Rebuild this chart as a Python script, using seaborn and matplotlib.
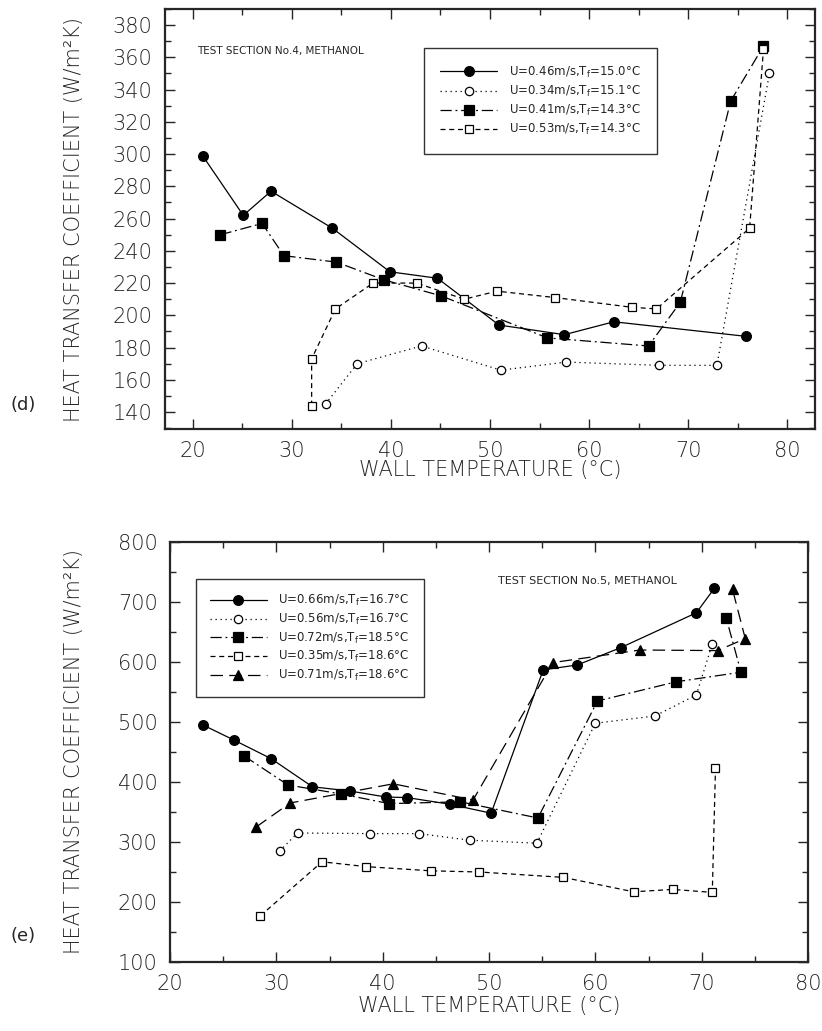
import matplotlib
matplotlib.use("Agg")
import matplotlib.pyplot as plt
from matplotlib.ticker import MultipleLocator
import seaborn as sns

# --- DATA: panel (d), test section No.4 ---
d_labels = [r"U=0.46m/s,T$_{\rm f}$=15.0°C", r"U=0.34m/s,T$_{\rm f}$=15.1°C",
            r"U=0.41m/s,T$_{\rm f}$=14.3°C", r"U=0.53m/s,T$_{\rm f}$=14.3°C"]
d1_t = [21.0, 25.1, 27.9, 34.1, 39.9, 44.7, 50.9, 57.5, 62.5, 75.8]
d1_h = [299, 262, 277, 254, 227, 223, 194, 188, 196, 187]
d2_t = [33.4, 36.6, 43.1, 51.1, 57.7, 67.1, 72.9, 78.2]
d2_h = [145, 170, 181, 166, 171, 169, 169, 350]
d3_t = [22.8, 27.0, 29.2, 34.5, 39.3, 45.1, 55.8, 66.0, 69.2, 74.3, 77.6]
d3_h = [250, 257, 237, 233, 222, 212, 186, 181, 208, 333, 367]
d4_t = [32.0, 32.0, 34.4, 38.2, 42.6, 47.4, 50.7, 56.6, 64.3, 66.8, 76.2, 77.6]
d4_h = [144, 173, 204, 220, 220, 210, 215, 211, 205, 204, 254, 365]

# --- DATA: panel (e), test section No.5 ---
e_labels = [r"U=0.66m/s,T$_{\rm f}$=16.7°C", r"U=0.56m/s,T$_{\rm f}$=16.7°C",
            r"U=0.72m/s,T$_{\rm f}$=18.5°C", r"U=0.35m/s,T$_{\rm f}$=18.6°C",
            r"U=0.71m/s,T$_{\rm f}$=18.6°C"]
e1_t = [23.1, 26.0, 29.5, 33.4, 36.9, 40.3, 42.3, 46.3, 50.2, 55.1, 58.3, 62.4, 69.5, 71.2]
e1_h = [495, 470, 439, 392, 385, 375, 374, 363, 348, 587, 595, 624, 682, 723]
e2_t = [30.3, 32.0, 38.8, 43.4, 48.2, 54.5, 60.0, 65.6, 69.5, 71.0]
e2_h = [285, 315, 314, 314, 303, 298, 498, 510, 545, 630]
e3_t = [27.0, 31.1, 36.1, 40.6, 47.3, 54.6, 60.2, 67.6, 73.7, 72.3]
e3_h = [443, 395, 380, 364, 367, 340, 535, 567, 583, 674]
e4_t = [28.5, 34.3, 38.4, 44.5, 49.1, 57.0, 63.6, 67.3, 71.0, 71.3]
e4_h = [177, 267, 259, 252, 250, 241, 217, 221, 216, 423]
e5_t = [28.1, 31.3, 41.0, 48.5, 56.0, 64.2, 71.5, 74.1, 72.9]
e5_h = [325, 365, 397, 370, 599, 620, 619, 639, 721]

# line / marker styles: (marker, filled, linestyle, markersize)
styles = {
    "circ_f": ("o", True, "-", 7),
    "circ_o": ("o", False, (0, (1, 3)), 6),
    "sq_f": ("s", True, (0, (9, 3, 1.5, 3)), 7),
    "sq_o": ("s", False, (0, (4, 3)), 6),
    "tri_f": ("^", True, (0, (10, 5)), 7),
}

sns.set_style("ticks")
plt.rcParams["font.family"] = ["DejaVu Sans"]
plt.rcParams["mathtext.fontset"] = "dejavusans"


def draw(ax, t, h, label, key):
    mk, filled, ls, ms = styles[key]
    sns.lineplot(x=t, y=h, ax=ax, sort=False, estimator=None, errorbar=None,
                 color="black", linewidth=0.9, linestyle=ls, marker=mk,
                 markersize=ms, markerfacecolor="black" if filled else "white",
                 markeredgecolor="black", markeredgewidth=0.9, label=label)


def frame(ax):
    for s in ax.spines.values():
        s.set_linewidth(1.6)
    ax.tick_params(which="both", direction="in", top=True, right=True)
    ax.tick_params(which="major", length=7, width=1, labelsize=15, pad=9)
    ax.tick_params(which="minor", length=4, width=1)
    for lab in ax.get_xticklabels() + ax.get_yticklabels():
        lab.set_fontweight("light")
    ax.set_xlabel("WALL TEMPERATURE (°C)", fontsize=15, fontweight="light")
    ax.set_ylabel("HEAT TRANSFER COEFFICIENT (W/m²K)", fontsize=15,
                  fontweight="light")


def boxed_legend(ax, anchor, pad, spacing):
    leg = ax.legend(loc="upper left", bbox_to_anchor=anchor, fontsize=8.5,
                    handlelength=4.8, handletextpad=1.0, borderpad=pad,
                    labelspacing=spacing, fancybox=False, frameon=True)
    leg.get_frame().set_edgecolor("black")
    leg.get_frame().set_linewidth(1.0)


fig = plt.figure(figsize=(8.22, 10.31), dpi=100)

# ---- panel (d) ----
ax_d = fig.add_axes([165 / 822, 1 - 429 / 1031, 650 / 822, 420 / 1031])
draw(ax_d, d1_t, d1_h, d_labels[0], "circ_f")
draw(ax_d, d2_t, d2_h, d_labels[1], "circ_o")
draw(ax_d, d3_t, d3_h, d_labels[2], "sq_f")
draw(ax_d, d4_t, d4_h, d_labels[3], "sq_o")
ax_d.set_xlim(17.2, 82.8)
ax_d.set_ylim(129.5, 390)
ax_d.set_xticks(range(20, 81, 10))
ax_d.set_yticks(range(140, 381, 20))
ax_d.xaxis.set_minor_locator(MultipleLocator(5))
ax_d.yaxis.set_minor_locator(MultipleLocator(10))
frame(ax_d)
ax_d.yaxis.set_label_coords(-0.125, 0.5)
ax_d.xaxis.set_label_coords(0.5, -0.075)
ax_d.text(0.05, 0.9, "TEST SECTION No.4, METHANOL", transform=ax_d.transAxes,
          fontsize=7.5, va="center")
boxed_legend(ax_d, (0.389, 0.921), 1.4, 0.35)

# ---- panel (e) ----
ax_e = fig.add_axes([170 / 822, 1 - 962 / 1031, 638 / 822, 420 / 1031])
draw(ax_e, e1_t, e1_h, e_labels[0], "circ_f")
draw(ax_e, e2_t, e2_h, e_labels[1], "circ_o")
draw(ax_e, e3_t, e3_h, e_labels[2], "sq_f")
draw(ax_e, e4_t, e4_h, e_labels[3], "sq_o")
draw(ax_e, e5_t, e5_h, e_labels[4], "tri_f")
ax_e.set_xlim(20, 80)
ax_e.set_ylim(100, 800)
ax_e.set_xticks(range(20, 81, 10))
ax_e.set_yticks(range(100, 801, 100))
ax_e.xaxis.set_minor_locator(MultipleLocator(5))
ax_e.yaxis.set_minor_locator(MultipleLocator(50))
frame(ax_e)
ax_e.yaxis.set_label_coords(-0.135, 0.5)
ax_e.xaxis.set_label_coords(0.5, -0.08)
ax_e.text(0.514, 0.907, "TEST SECTION No.5, METHANOL", transform=ax_e.transAxes,
          fontsize=8, va="center")
boxed_legend(ax_e, (0.031, 0.926), 1.2, 0.3)

fig.text(10 / 822, 1 - 405 / 1031, "(d)", fontsize=13, va="center")
fig.text(10 / 822, 1 - 936 / 1031, "(e)", fontsize=13, va="center")

fig.savefig("out.png", dpi=100, facecolor="white")
